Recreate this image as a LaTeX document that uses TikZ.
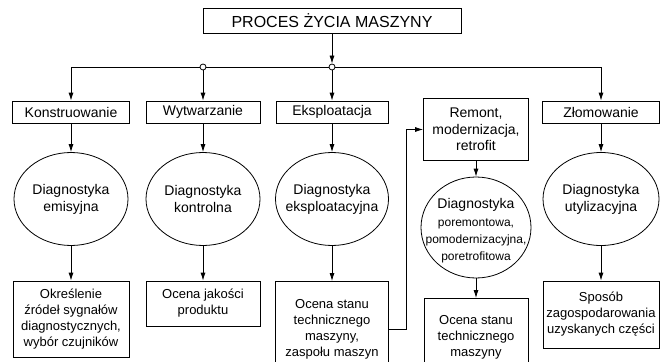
\documentclass[tikz,border=0pt]{standalone}
\usepackage{fontspec}
\setmainfont{Liberation Sans}
\usetikzlibrary{shapes.geometric,arrows.meta}
\tikzset{
  ln/.style={line width=0.8pt},
  arr/.style={ln,-{Latex[length=8pt,width=5pt]}},
  bx/.style={draw,ln,rectangle,inner sep=1pt,align=center,font=\fontsize{14}{16.5}\selectfont},
  elp/.style={draw,ln,ellipse,inner sep=0pt},
  etx/.style={inner sep=0pt,align=center,font=\fontsize{14}{17}\selectfont},
  lowbx/.style={draw,ln,rectangle,inner sep=1pt,align=center,font=\fontsize{13}{16}\selectfont},
  open/.style={lowbx,draw=none},
  jn/.style={circle,draw,ln,fill=white,inner sep=0pt,minimum size=6pt}
}
\begin{document}
\begin{tikzpicture}[x=1pt,y=-1pt]
\clip (0,0) rectangle (671,361);
\fill[white] (0,0) rectangle (671,361);
% top
\node[bx,minimum width=258,minimum height=25,font=\fontsize{16}{18}\selectfont] (top) at (332,20.5) {PROCES ŻYCIA MASZYNY};
\node[jn] (c1) at (203,67) {};
\node[jn] (c2) at (332,67) {};
% row 2
\node[bx,minimum width=117,minimum height=22] (k) at (71,112) {Konstruowanie};
\node[bx,minimum width=114,minimum height=22] (w) at (203,112) {Wytwarzanie};
\node[bx,minimum width=112,minimum height=22] (e) at (332,112) {Eksploatacja};
\node[bx,minimum width=105,minimum height=62] (r) at (476,129.5) {Remont,\\modernizacja,\\retrofit};
\node[bx,minimum width=117,minimum height=22] (z) at (601,112) {Złomowanie};
% ellipses
\node[elp,minimum width=114,minimum height=93] (d1) at (71,199) {};
\node[etx] (d1t) at (d1) {Diagnostyka\\emisyjna};
\node[elp,minimum width=114,minimum height=93] (d2) at (203,199) {};
\node[etx] (d2t) at (d2) {Diagnostyka\\kontrolna};
\node[elp,minimum width=113,minimum height=93] (d3) at (332,199) {};
\node[etx] (d3t) at (d3) {Diagnostyka\\eksploatacyjna};
\node[elp,minimum width=110,minimum height=101] (d4) at (476,227.5) {};
\node[etx] (d4t) at (476,231) {Diagnostyka\\[1pt]{\fontsize{12}{14.5}\selectfont poremontowa,}\\{\fontsize{12}{14.5}\selectfont pomodernizacyjna,}\\{\fontsize{12}{14.5}\selectfont poretrofitowa}};
\node[elp,minimum width=116,minimum height=93] (d5) at (601,199) {};
\node[etx] (d5t) at (d5) {Diagnostyka\\utylizacyjna};
% bottom boxes
\node[lowbx,minimum width=116,minimum height=76] (b1) at (71,319) {Określenie\\źródeł sygnałów\\diagnostycznych,\\wybór czujników};
\node[lowbx,minimum width=114,minimum height=45] (b2) at (203,303.5) {Ocena jakości\\produktu};
\node[open,minimum width=112,minimum height=96,anchor=north] (b3) at (332,281) {Ocena stanu\\technicznego\\maszyny,\\zaspołu maszyn};
\draw[ln] ([yshift=-20]b3.south west) -- (b3.north west) -- (b3.north east) -- ([yshift=-20]b3.south east);
\node[open,minimum width=103,minimum height=78,anchor=north] (b4) at (476,298) {Ocena stanu\\technicznego\\maszyny};
\draw[ln] ([yshift=-20]b4.south west) -- (b4.north west) -- (b4.north east) -- ([yshift=-20]b4.south east);
\node[lowbx,minimum width=116,minimum height=67] (b5) at (601,314.5) {Sposób\\zagospodarowania\\uzyskanych części};
% connectors
\draw[arr] (top) -- (c2);
\draw[ln] (k.north |- c1) -- (c1) -- (c2) -- (z.north |- c2);
\draw[arr] (k.north |- c1) -- (k.north);
\draw[arr] (c1) -- (w);
\draw[arr] (c2) -- (e);
\draw[arr] (z.north |- c2) -- (z.north);
\draw[arr] (k) -- (d1);
\draw[arr] (w) -- (d2);
\draw[arr] (e) -- (d3);
\draw[arr] (r) -- (d4);
\draw[arr] (z) -- (d5);
\draw[arr] (d1) -- (b1);
\draw[arr] (d2) -- (b2);
\draw[arr] (d3) -- (b3);
\draw[arr] (d4) -- (b4);
\draw[arr] (d5) -- (b5);
\draw[arr] (b3.east) -- ++(18,0) |- (r.west);
\end{tikzpicture}
\end{document}
